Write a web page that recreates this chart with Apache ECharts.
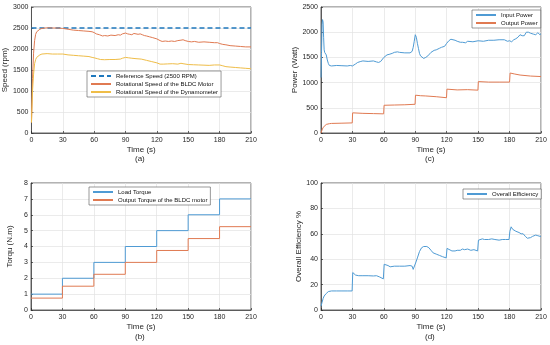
<!DOCTYPE html>
<html><head><meta charset="utf-8">
<script src="https://cdn.jsdelivr.net/npm/echarts@6/dist/echarts.min.js"></script>
<style>html,body{margin:0;padding:0;background:#fff}#c{width:550px;height:345px}</style>
</head><body><div id="c"></div>
<script>
// ---- data (time in s) ----
const xTicks = [0, 30, 60, 90, 120, 150, 180, 210];
const refSpeed = [[0, 2500], [210, 2500]];
const bldcSpeed = [[0,250],[1,1300],[2,1900],[3,2200],[4,2350],[5,2410],[6,2440],[8,2470],[10,2490],[13,2500],[16,2505],[20,2500],[25,2500],[30,2490],[35,2470],[40,2450],[45,2440],[50,2430],[55,2420],[58,2410],[60,2390],[62,2360],[65,2340],[68,2310],[70,2320],[73,2310],[76,2330],[80,2320],[83,2340],[85,2330],[87,2360],[88,2390],[90,2380],[92,2360],[94,2350],[96,2340],[98,2370],[100,2360],[102,2350],[104,2360],[106,2340],[108,2320],[110,2310],[113,2290],[116,2270],[120,2240],[123,2200],[125,2180],[128,2190],[131,2180],[134,2190],[137,2180],[140,2200],[143,2210],[145,2220],[147,2200],[150,2180],[153,2170],[156,2180],[160,2160],[165,2170],[170,2160],[175,2150],[178,2150],[180,2130],[183,2110],[186,2100],[190,2080],[195,2070],[200,2060],[205,2050],[210,2050]];
const dynoSpeed = [[0,250],[1,1000],[2,1400],[3,1650],[4,1750],[5,1800],[6,1830],[8,1860],[10,1880],[15,1890],[20,1880],[25,1880],[30,1880],[35,1860],[40,1850],[45,1840],[50,1830],[55,1820],[58,1800],[60,1790],[63,1770],[66,1750],[70,1745],[75,1750],[80,1750],[85,1760],[87,1780],[88,1810],[90,1800],[93,1790],[96,1780],[100,1770],[105,1760],[110,1730],[115,1700],[120,1670],[123,1640],[126,1640],[130,1645],[135,1650],[140,1640],[143,1660],[145,1650],[150,1630],[155,1625],[160,1620],[165,1615],[170,1610],[175,1620],[180,1620],[183,1600],[186,1580],[190,1570],[195,1560],[200,1550],[205,1540],[210,1530]];
const loadTorque = [[0,1],[30,2],[60,3],[90,4],[120,5],[150,6],[180,7],[210,7]];
const outTorque = [[0,0.75],[30,1.5],[60,2.25],[90,3],[120,3.75],[150,4.5],[180,5.25],[210,5.25]];
const inputPower = [[0,1100],[0.5,1600],[1,2150],[1.5,2250],[2,2200],[2.5,1900],[3,1650],[3.5,1600],[4,1580],[5,1550],[6,1450],[7,1380],[8,1340],[10,1330],[15,1340],[20,1335],[25,1330],[28,1340],[30,1330],[31,1320],[33,1370],[35,1400],[38,1420],[40,1430],[45,1420],[50,1430],[53,1410],[55,1400],[57,1420],[60,1500],[63,1550],[65,1560],[68,1580],[70,1600],[73,1610],[75,1600],[80,1590],[85,1590],[87,1620],[88,1700],[89,1820],[90,1950],[91,1900],[92,1780],[93,1680],[94,1580],[95,1530],[96,1500],[98,1480],[100,1500],[102,1530],[105,1600],[108,1640],[110,1650],[113,1680],[115,1700],[118,1720],[120,1780],[122,1830],[124,1860],[126,1850],[128,1840],[130,1820],[133,1800],[135,1800],[138,1790],[140,1820],[145,1810],[150,1830],[155,1820],[160,1840],[165,1840],[170,1850],[175,1850],[178,1820],[180,1830],[182,1810],[184,1850],[186,1870],[188,1900],[190,1950],[192,1930],[194,1930],[196,2000],[198,2000],[200,1980],[203,1960],[205,1950],[207,1990],[209,1950],[210,1970]];
const outputPower = [[0,0],[1,60],[2,110],[3,140],[5,170],[8,185],[10,190],[20,195],[29.8,200],[30.2,400],[40,390],[50,385],[59.8,380],[60.2,550],[70,555],[80,560],[89.8,570],[90.2,750],[95,740],[100,735],[110,720],[119.8,700],[120.2,870],[130,855],[140,860],[149.8,850],[150.2,1020],[160,1010],[170,1010],[180,1010],[180.5,1190],[185,1170],[190,1150],[200,1130],[210,1120]];
const efficiency = [[0,3],[1,6],[2,9],[3,11],[4,12],[5,13],[7,14.5],[10,15],[15,15],[20,15],[25,15],[29.7,15],[30.3,29.5],[31,29],[33,27.5],[36,27],[40,27],[45,27],[50,26.8],[53,27],[56,26],[59.5,24.5],[60.3,36],[62,35.5],[64,35],[66,34],[70,34.5],[75,34.5],[80,34.5],[85,35],[87,34.5],[88,32],[89.5,30.5],[90.3,37],[92,41],[94,46],[96,49],[98,50],[101,50],[103,49],[105,47],[107,45],[110,44],[113,43],[116,42],[119.5,41],[120.3,48.5],[122,47.5],[125,46.5],[128,46.5],[130,47],[133,47],[135,48],[137,47.5],[140,48],[143,47],[146,47.5],[149.5,46.5],[150.3,55],[152,56.5],[154,56],[156,55.5],[160,55.5],[163,56],[166,55.5],[170,55],[173,55.5],[176,55.5],[179.5,55.5],[180.3,62],[181.5,65.5],[183,63.5],[186,62],[189,61],[191,60],[193,60],[195,58],[197,56.5],[200,57],[202,58],[205,59],[207,58.5],[208.5,60],[209,58],[210,58]];

// ---- styling ----
const FONT = '"Liberation Sans", Arial, sans-serif';
const AX = '#262626';
const BLUE = '#4f9bd4', DBLUE = '#1f78bd', ORANGE = '#e07a52', YELLOW = '#efbd48';

function xAxis(gi) {
  return {
    type: 'value', gridIndex: gi, min: 0, max: 210, interval: 30,
    name: 'Time (s)', nameLocation: 'middle', nameGap: 13,
    nameTextStyle: { fontFamily: FONT, fontSize: 8, color: AX },
    axisLine: { show: true, lineStyle: { color: AX, width: 0.7 } },
    axisTick: { show: true, inside: true, length: 2, lineStyle: { color: AX, width: 0.7 } },
    axisLabel: { fontFamily: FONT, fontSize: 7, color: AX, margin: 4, formatter: v => String(v) },
    splitLine: { show: true, lineStyle: { color: '#e3e3e3', width: 0.7 } }
  };
}
function yAxis(gi, max, interval, name, gap) {
  return {
    type: 'value', gridIndex: gi, min: 0, max: max, interval: interval,
    name: name, nameLocation: 'middle', nameGap: gap,
    nameTextStyle: { fontFamily: FONT, fontSize: 8, color: AX },
    axisLine: { show: true, lineStyle: { color: AX, width: 0.7 } },
    axisTick: { show: true, inside: true, length: 2, lineStyle: { color: AX, width: 0.7 } },
    axisLabel: { fontFamily: FONT, fontSize: 7, color: AX, margin: 3, formatter: v => String(v) },
    splitLine: { show: true, lineStyle: { color: '#e3e3e3', width: 0.7 } }
  };
}
function makeLegend(data, left, top) {
  return {
    show: true, data: data, orient: 'vertical', left: left, top: top,
    itemWidth: 20, itemHeight: 6, itemGap: 2, padding: [2, 3, 2, 3],
    borderColor: '#555', borderWidth: 0.6, backgroundColor: '#fff',
    textStyle: { fontFamily: FONT, fontSize: 6, color: '#111' },
    itemStyle: { opacity: 0 },
    selectedMode: false
  };
}
function line(name, data, xi, color, extra) {
  return Object.assign({
    name: name, type: 'line', xAxisIndex: xi, yAxisIndex: xi, data: data,
    showSymbol: false, symbol: 'none', animation: false,
    lineStyle: { color: color, width: 1 }, itemStyle: { color: color }
  }, extra || {});
}

const chart = echarts.init(document.getElementById('c'), null, { renderer: 'canvas' });
chart.setOption({
  backgroundColor: '#fff',
  animation: false,
  grid: [
    { left: 31, top: 7, width: 220, height: 126, show: true, borderColor: AX, borderWidth: 0.7 },
    { left: 321, top: 7, width: 220, height: 126, show: true, borderColor: AX, borderWidth: 0.7 },
    { left: 31, top: 183, width: 220, height: 127, show: true, borderColor: AX, borderWidth: 0.7 },
    { left: 321, top: 183, width: 220, height: 127, show: true, borderColor: AX, borderWidth: 0.7 }
  ],
  xAxis: [xAxis(0), xAxis(1), xAxis(2), xAxis(3)],
  yAxis: [
    yAxis(0, 3000, 500, 'Speed (rpm)', 15),
    yAxis(1, 2500, 500, 'Power (Watt)', 15),
    yAxis(2, 8, 1, 'Torqu (N.m)', 17),
    yAxis(3, 100, 20, 'Overall Efficiency %', 13)
  ],
  legend: [
    makeLegend(['Reference Speed (2500 RPM)', 'Rotational Speed of the BLDC Motor', 'Rotational Speed of the Dynamometer'], 87, 71),
    makeLegend(['Input Power', 'Output Power'], 472, 10),
    makeLegend(['Load Torque', 'Output Torque of the BLDC motor'], 89, 187),
    makeLegend(['Overall Efficiency'], 463, 189)
  ],
  series: [
    line('Reference Speed (2500 RPM)', refSpeed, 0, DBLUE, { lineStyle: { color: DBLUE, width: 1.5, type: [5, 3] } }),
    line('Rotational Speed of the BLDC Motor', bldcSpeed, 0, ORANGE),
    line('Rotational Speed of the Dynamometer', dynoSpeed, 0, YELLOW),
    line('Input Power', inputPower, 1, BLUE),
    line('Output Power', outputPower, 1, ORANGE),
    line('Load Torque', loadTorque, 2, BLUE, { step: 'end' }),
    line('Output Torque of the BLDC motor', outTorque, 2, ORANGE, { step: 'end' }),
    line('Overall Efficiency', efficiency, 3, BLUE)
  ],
  graphic: [
    { type: 'text', left: 135, top: 155, style: { text: '(a)', font: '8px ' + FONT, fill: AX } },
    { type: 'text', left: 425, top: 155, style: { text: '(c)', font: '8px ' + FONT, fill: AX } },
    { type: 'text', left: 135, top: 333, style: { text: '(b)', font: '8px ' + FONT, fill: AX } },
    { type: 'text', left: 425, top: 333, style: { text: '(d)', font: '8px ' + FONT, fill: AX } }
  ]
});
</script></body></html>
